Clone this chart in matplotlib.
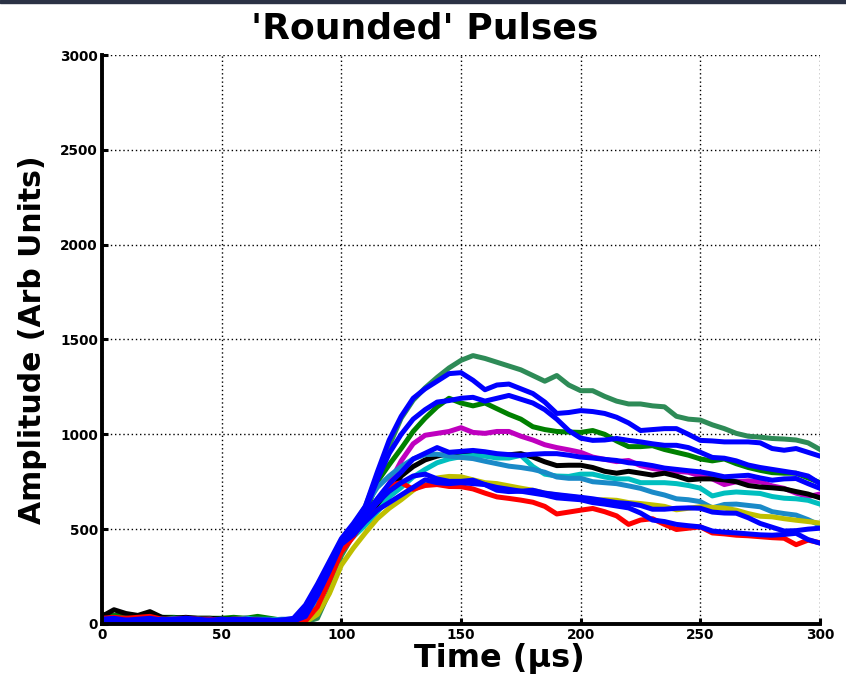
import numpy as np
import matplotlib
matplotlib.use('Agg')
import matplotlib.pyplot as plt
from matplotlib.patches import Rectangle

# sample times (us)
t = [0, 5, 10, 15, 20, 25, 30, 35, 40, 45, 50, 55, 60, 65, 70, 75,
     80, 85, 90, 95, 100, 105, 110, 115, 120, 125, 130, 135, 140, 145, 150,
     155, 160, 165, 170, 175, 180, 185, 190, 195, 200,
     205, 210, 215, 220, 225, 230, 235, 240, 245, 250,
     255, 260, 265, 270, 275, 280, 285, 290, 295, 300]

# pulses (baseline 0-75 us, then 80-300 us)
seagreen = [15, 20, 25, 20, 25, 20, 20, 25, 20, 20, 25, 20, 20, 15, 15, 15,
            10, 10, 30, 170, 360, 470, 620, 780, 940, 1085, 1180, 1245, 1300, 1350, 1390,
            1415, 1400, 1380, 1360, 1340, 1310, 1280, 1310, 1260, 1230,
            1230, 1200, 1175, 1160, 1160, 1150, 1145, 1095, 1080, 1075,
            1050, 1030, 1005, 990, 985, 978, 975, 970, 955, 920]
blue_a = [20, 15, 20, 15, 20, 25, 20, 15, 20, 15, 20, 25, 20, 15, 15, 20,
          30, 100, 210, 330, 450, 530, 620, 800, 970, 1095, 1190, 1240, 1280, 1320, 1325,
          1285, 1235, 1260, 1265, 1240, 1215, 1170, 1110, 1115, 1125,
          1120, 1110, 1090, 1060, 1020, 1025, 1030, 1030, 1000, 968,
          965, 960, 960, 960, 955, 925, 916, 925, 905, 885]
blue_b = [10, 15, 10, 15, 20, 15, 15, 20, 15, 20, 15, 20, 15, 20, 15, 20,
          20, 70, 180, 300, 430, 500, 600, 760, 900, 1000, 1080, 1130, 1170, 1178, 1190,
          1195, 1175, 1190, 1205, 1185, 1165, 1130, 1080, 1020, 980,
          968, 970, 978, 968, 960, 950, 942, 942, 930, 905,
          878, 874, 860, 838, 825, 815, 805, 795, 780, 740]
green = [50, 45, 45, 40, 40, 35, 35, 30, 30, 30, 30, 35, 30, 40, 30, 20,
         15, 30, 140, 280, 420, 490, 580, 750, 840, 925, 1015, 1085, 1145, 1190, 1165,
         1150, 1165, 1135, 1105, 1080, 1040, 1025, 1015, 1012, 1010,
         1020, 1000, 965, 935, 935, 940, 920, 905, 890, 870,
         860, 870, 845, 825, 810, 798, 795, 795, 770, 745]
magenta = [30, 25, 30, 25, 30, 25, 25, 30, 25, 20, 25, 20, 25, 20, 20, 15,
           15, 30, 130, 270, 420, 480, 540, 620, 740, 860, 950, 995, 1005, 1015, 1035,
           1010, 1005, 1015, 1015, 990, 970, 945, 930, 918, 905,
           880, 868, 856, 862, 835, 820, 810, 805, 800, 780,
           765, 735, 750, 755, 750, 728, 715, 690, 672, 685]
black = [40, 75, 55, 45, 65, 35, 30, 35, 30, 30, 25, 25, 30, 25, 20, 15,
         15, 30, 120, 260, 410, 470, 530, 600, 680, 780, 830, 865, 885, 898, 895,
         889, 889, 889, 892, 898, 880, 855, 835, 837, 837,
         825, 805, 795, 805, 795, 785, 795, 780, 760, 765,
         765, 760, 750, 730, 722, 718, 712, 698, 685, 665]
cyan = [25, 20, 25, 30, 20, 25, 25, 20, 25, 25, 20, 25, 30, 25, 25, 20,
        20, 40, 130, 260, 400, 460, 520, 590, 670, 720, 775, 815, 850, 870, 882,
        888, 885, 875, 875, 889, 830, 790, 780, 778, 790,
        790, 775, 765, 765, 745, 745, 745, 740, 730, 716,
        675, 690, 696, 692, 688, 672, 663, 660, 652, 632]
steelblue = [15, 25, 30, 25, 35, 20, 30, 25, 20, 25, 20, 15, 20, 25, 20, 25,
             25, 80, 190, 310, 440, 520, 620, 720, 780, 830, 870, 893, 895, 885, 878,
             872, 858, 845, 832, 825, 815, 800, 775, 768, 768,
             750, 745, 740, 728, 715, 695, 680, 660, 655, 645,
             612, 630, 632, 625, 618, 592, 582, 574, 550, 520]
blue_c = [25, 30, 20, 25, 30, 20, 25, 30, 25, 20, 25, 20, 25, 20, 20, 15,
          20, 60, 170, 300, 430, 500, 580, 660, 740, 800, 870, 900, 930, 905, 910,
          915, 908, 898, 893, 889, 895, 898, 898, 890, 880,
          875, 868, 862, 850, 845, 835, 822, 815, 808, 802,
          790, 776, 780, 784, 770, 758, 765, 767, 740, 715]
blue_d = [5, 10, 15, 10, 15, 10, 15, 10, 15, 10, 15, 10, 10, 15, 10, 15,
          15, 50, 160, 290, 430, 500, 570, 640, 700, 745, 780, 790, 765, 752, 752,
          758, 735, 705, 698, 700, 705, 690, 682, 675, 668,
          660, 650, 640, 635, 625, 605, 605, 610, 612, 610,
          590, 585, 584, 560, 530, 510, 490, 492, 500, 505]
blue_e = [15, 20, 15, 20, 15, 20, 25, 15, 20, 15, 15, 20, 15, 20, 20, 10,
          15, 40, 150, 280, 420, 470, 540, 600, 640, 680, 720, 760, 745, 740, 745,
          740, 735, 720, 710, 700, 690, 680, 665, 660, 655,
          640, 632, 622, 612, 585, 548, 540, 525, 518, 512,
          490, 484, 480, 475, 470, 468, 472, 478, 445, 426]
red = [30, 35, 30, 35, 40, 25, 25, 30, 25, 25, 20, 25, 25, 20, 15, 15,
       10, 15, 90, 230, 380, 460, 560, 650, 730, 745, 710, 730, 735, 725, 724,
       712, 690, 670, 662, 653, 642, 620, 580, 590, 600,
       609, 592, 570, 525, 548, 555, 525, 498, 505, 512,
       480, 475, 468, 465, 460, 455, 452, 418, 442, 428]
yellow = [20, 20, 20, 25, 20, 20, 25, 20, 25, 20, 15, 10, 10, 15, 20, 15,
          10, 10, 50, 160, 310, 400, 480, 555, 610, 655, 705, 745, 770, 778, 776,
          760, 745, 740, 728, 716, 705, 690, 680, 672, 665,
          653, 655, 652, 640, 635, 628, 620, 602, 610, 618,
          615, 611, 600, 582, 568, 565, 555, 547, 540, 532]

pulses = [(seagreen, '#2e8b57'), (green, '#008000'), (magenta, '#bf00bf'),
          (black, '#000000'), (cyan, '#00bfbf'), (steelblue, '#1a8ac8'),
          (yellow, '#bfbf00'), (red, '#ff0000'),
          (blue_c, '#0000ff'), (blue_b, '#0000ff'), (blue_a, '#0000ff'),
          (blue_d, '#0000ff'), (blue_e, '#0000ff')]

plt.rcParams['font.family'] = 'DejaVu Sans'
plt.rcParams['font.weight'] = 'bold'

fig = plt.figure(figsize=(8.46, 6.85), dpi=100)
ax = fig.add_axes([0.1206, 0.0891, 0.8487, 0.8306])

for y, c in pulses:
    ax.plot(t, y, color=c, lw=3.6, solid_joinstyle='round')

ax.set_xlim(0, 300)
ax.set_ylim(0, 3000)
ax.set_xticks([0, 50, 100, 150, 200, 250, 300])
ax.set_yticks([0, 500, 1000, 1500, 2000, 2500, 3000])
ax.grid(True, color='black', linestyle=(0, (1, 2)), lw=1.0)
ax.set_axisbelow(True)

ax.spines['top'].set_visible(False)
ax.spines['right'].set_visible(False)
ax.spines['left'].set_linewidth(2.8)
ax.spines['bottom'].set_linewidth(2.8)
ax.tick_params(direction='in', length=4, width=2.2, labelsize=9.8, pad=3)
for lab in ax.get_xticklabels() + ax.get_yticklabels():
    lab.set_fontweight('bold')

ax.set_title("'Rounded' Pulses", fontsize=26, fontweight='bold', x=0.45, pad=12)
ax.set_xlabel('Time (\u03bcs)', fontsize=23, fontweight='bold')
ax.xaxis.set_label_coords(0.554, -0.033)
ax.set_ylabel('Amplitude (Arb Units)', fontsize=21.5, fontweight='bold', labelpad=9)

# dark strip along the top edge
fig.patches.append(Rectangle((0, 1 - 3 / 685), 1, 3 / 685, transform=fig.transFigure,
                             color='#2b3245', zorder=10))

fig.savefig('out.png', dpi=100)
